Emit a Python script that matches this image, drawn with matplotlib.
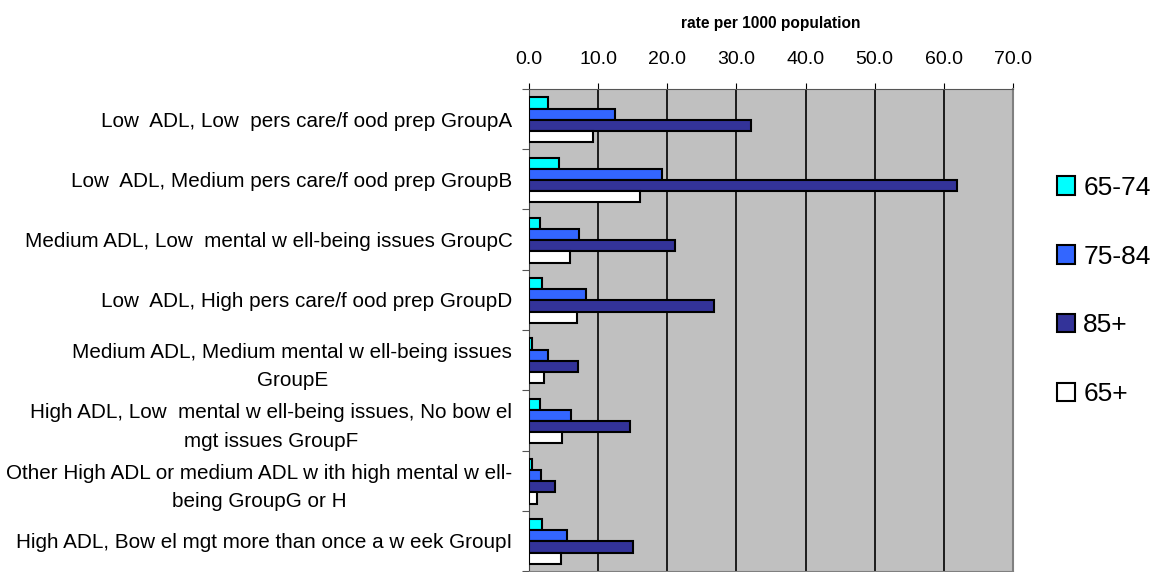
import matplotlib.pyplot as plt
import matplotlib.patheffects as pe
import numpy as np

plt.rcParams['font.family'] = ['Liberation Sans', 'DejaVu Sans']

categories = [
    "Low  ADL, Low  pers care/f ood prep GroupA",
    "Low  ADL, Medium pers care/f ood prep GroupB",
    "Medium ADL, Low  mental w ell-being issues GroupC",
    "Low  ADL, High pers care/f ood prep GroupD",
    "Medium ADL, Medium mental w ell-being issues\nGroupE",
    "High ADL, Low  mental w ell-being issues, No bow el\nmgt issues GroupF",
    "Other High ADL or medium ADL w ith high mental w ell-\nbeing GroupG or H",
    "High ADL, Bow el mgt more than once a w eek GroupI",
]
series_names = ["65-74", "75-84", "85+", "65+"]
v_65_74 = [2.8, 4.4, 1.6, 1.9, 0.5, 1.6, 0.5, 1.9]
v_75_84 = [12.5, 19.2, 7.3, 8.2, 2.8, 6.1, 1.7, 5.5]
v_85p = [32.1, 61.9, 21.1, 26.8, 7.1, 14.6, 3.7, 15.1]
v_65p = [9.3, 16.0, 5.9, 7.0, 2.2, 4.8, 1.1, 4.7]
colors = ["#00FFFF", "#3366FF", "#333399", "#FFFFFF"]

fig = plt.figure(figsize=(11.64, 5.72), dpi=100)
ax = fig.add_axes([529 / 1164, 1 - 571 / 572, (1013 - 529) / 1164, (571 - 89) / 572])
ax.set_facecolor("#C0C0C0")

y = np.arange(len(categories))
h = 0.185
shadow = [pe.SimplePatchShadow(offset=(1.5, -1.5), shadow_rgbFace="#808080", alpha=1), pe.Normal()]
for i, (vals, name, c) in enumerate(zip([v_65_74, v_75_84, v_85p, v_65p], series_names, colors)):
    bars = ax.barh(y - 1.5 * h + i * h + 0.01, vals, height=h, color=c, edgecolor="black",
                   linewidth=1.5, label=name, zorder=3)
    for b in bars:
        b.set_path_effects(shadow)

ax.set_xlim(0, 70)
ax.set_ylim(len(categories) - 0.5, -0.5)
ax.set_xticks(np.arange(0, 71, 10))
ax.set_xticklabels([f"{v:.1f}" for v in np.arange(0, 71, 10)], fontsize=14)
ax.xaxis.tick_top()
ax.xaxis.set_label_position("top")
ax.set_xlabel("rate per 1000 population", fontsize=11.2, fontweight="bold", labelpad=17)
ax.tick_params(axis="x", direction="out", length=4.5, pad=10.5, colors="black")
ax.grid(axis="x", color="black", linewidth=1.2, zorder=1)

ax.set_yticks(np.arange(len(categories) + 1) - 0.5, minor=False)
ax.set_yticklabels([])
ax.tick_params(axis="y", which="major", length=5, color="#555555")
ax.set_yticks(y, minor=True)
ax.set_yticklabels(categories, minor=True, fontsize=14.9, multialignment="center",
                   linespacing=1.62)
ax.tick_params(axis="y", which="minor", length=0, pad=12)

ax.spines["left"].set_color("#404040")
ax.spines["top"].set_color("#555555")
ax.spines["right"].set_color("#808080")
ax.spines["right"].set_linewidth(1.5)
ax.spines["bottom"].set_color("#808080")

handles, labels = ax.get_legend_handles_labels()
for hd in handles:
    for b in hd:
        b.set_path_effects([])
leg = fig.legend(handles, labels, loc="upper left", bbox_to_anchor=(1033 / 1164, 1 - 152 / 572),
                 frameon=False, fontsize=19, labelspacing=1.7, handlelength=0.7,
                 handleheight=0.7, handletextpad=0.3)

fig.savefig("out.png", dpi=100)
